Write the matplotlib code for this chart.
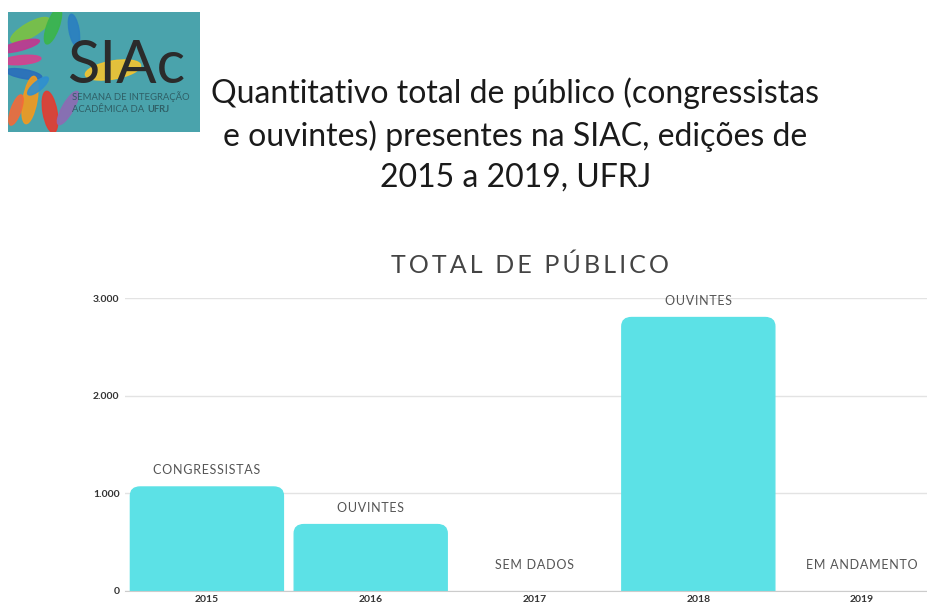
import matplotlib.pyplot as plt
import numpy as np
from matplotlib.patches import FancyBboxPatch, Rectangle, Ellipse

plt.rcParams['font.family'] = ['Lato', 'DejaVu Sans']

# Dados
anos = ['2015', '2016', '2017', '2018', '2019']
publico = [1065, 680, 0, 2800, 0]
rotulos = ['CONGRESSISTAS', 'OUVINTES', 'SEM DADOS', 'OUVINTES', 'EM ANDAMENTO']
yticks = [0, 1000, 2000, 3000]
ytick_labels = ['0', '1.000', '2.000', '3.000']

cor_barra = '#5ce1e6'
cor_texto = '#555555'


def espacar(texto, sep='\u200a'):
    return sep.join(texto)


fig = plt.figure(figsize=(9.27, 6.03), dpi=100)

# Título principal
fig.text(0.556, 0.776, 'Quantitativo total de público (congressistas\ne ouvintes) presentes na SIAC, edições de\n2015 a 2019, UFRJ',
         ha='center', va='center', fontsize=23, color='#1a1a1a', linespacing=1.45)

# Logo (aproximação)
logo = fig.add_axes([8 / 927, 1 - 132 / 603, 192 / 927, 120 / 603])
logo.set_xlim(0, 192)
logo.set_ylim(0, 120)
logo.axis('off')
logo.add_patch(Rectangle((0, 0), 192, 120, color='#4aa3ac'))
maos = [((22, 102), 44, 14, 30, '#7cc242'), ((45, 106), 38, 12, 70, '#3bb54a'),
        ((66, 102), 32, 10, 100, '#2a7fc1'), ((12, 86), 40, 9, 15, '#c2378f'),
        ((14, 72), 38, 9, 5, '#d6418f'), ((16, 58), 36, 9, -10, '#2a6ebb'),
        ((22, 32), 48, 14, 80, '#f39a1e'), ((42, 20), 42, 14, 100, '#e53b2f'),
        ((60, 24), 38, 11, 60, '#8e6bb3'), ((8, 22), 32, 10, 70, '#f26b3a'),
        ((30, 46), 26, 9, 40, '#2f8fd0'), ((105, 62), 56, 18, 10, '#f4c430')]
for (xy, w, h, ang, cor) in maos:
    logo.add_patch(Ellipse(xy, w, h, angle=ang, color=cor, alpha=0.9))
logo.text(59, 49, 'SIAc', fontsize=43, color='#2b2b2b', va='baseline', ha='left')
logo.text(64, 35, 'SEMANA DE INTEGRAÇÃO', fontsize=6.8, color='#2f5f66', va='center', ha='left')
t_acad = logo.text(64, 22, 'ACADÊMICA DA', fontsize=6.8, color='#2f5f66', va='center', ha='left')
fig.canvas.draw()
fim = logo.transData.inverted().transform(t_acad.get_window_extent().get_points())[1][0]
logo.text(fim + 3, 22, 'UFRJ', fontsize=6.8, color='#2f5f66', va='center', ha='left', fontweight='bold')

# Subtítulo do gráfico
fig.text(0.572, 0.56, espacar('TOTAL DE PÚBLICO', '\u2009'), ha='center', va='center',
         fontsize=18, color='#444444')

# Gráfico de barras
ax = fig.add_axes([125 / 927, 12 / 603, 802 / 927, 293 / 603])
posicoes = np.arange(len(anos))
largura = 0.934
barras = ax.bar(posicoes, publico, largura, color=cor_barra, zorder=2)

# Cantos superiores arredondados (a parte de baixo fica cortada pelo eixo)
for b in barras:
    x, w, h = b.get_x(), b.get_width(), b.get_height()
    if h <= 0:
        continue
    b.set_visible(False)
    ax.add_patch(FancyBboxPatch((x, -300), w, h + 300, boxstyle='round,pad=0,rounding_size=0.06',
                                mutation_aspect=1500, color=cor_barra, zorder=2))

for i, (valor, rot) in enumerate(zip(publico, rotulos)):
    desloc = 12 if valor > 0 else 19
    ax.annotate(espacar(rot), (posicoes[i], valor), xytext=(0, desloc), textcoords='offset points',
                ha='center', va='center', fontsize=9, color=cor_texto, zorder=3)

ax.set_xlim(-0.5, 4.396)
ax.set_ylim(0, 3000)
ax.set_yticks(yticks)
ax.set_yticklabels(ytick_labels, fontsize=7.5, fontweight='bold', color='#333333')
ax.set_xticks(posicoes)
ax.set_xticklabels(anos, fontsize=7.5, fontweight='bold', color='#333333')
ax.tick_params(length=0, pad=3)
ax.tick_params(axis='y', pad=4)
ax.grid(axis='y', color='#e3e3e3', linewidth=1, zorder=0)
for lado in ['top', 'right', 'left']:
    ax.spines[lado].set_visible(False)
ax.spines['bottom'].set_color('#cccccc')
ax.spines['bottom'].set_zorder(3)

fig.savefig('out.png', dpi=100)
